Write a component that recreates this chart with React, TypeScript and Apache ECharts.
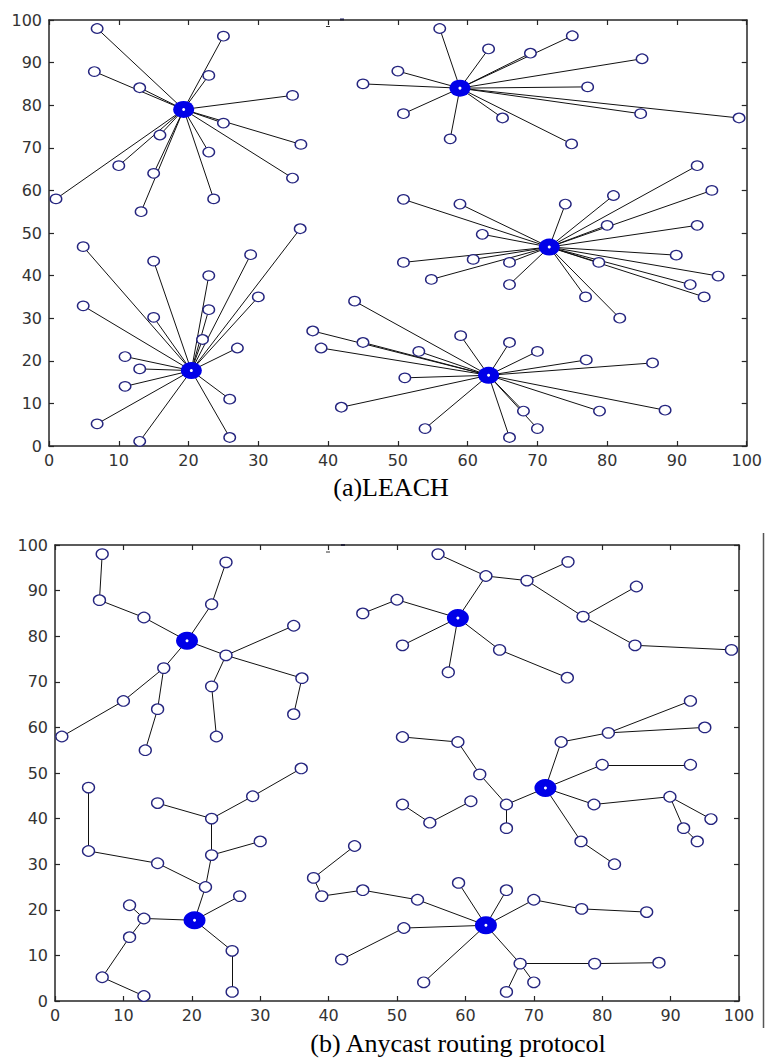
import React, { useEffect, useRef } from "react";
import * as echarts from "echarts";

// Cluster heads (shared by both panels)
const headX = [19.3, 20.4, 58.9, 71.7, 63.0];
const headY = [79.0, 17.7, 84.0, 46.7, 16.6];

// Sensor nodes
const nodeX = [
  6.9, 25.0, 6.5, 22.9, 13.0, 34.9, 25.0, 36.1, 15.9, 10.0, 22.9, 15.0, 34.9, 1.0, 13.2, 23.6,
  4.9, 15.0, 22.9, 28.9, 36.0, 30.0, 4.9, 15.0, 22.9, 22.0, 27.0, 10.9, 13.0, 10.9, 25.9, 6.9, 13.0, 25.9,
  56.0, 63.0, 69.0, 75.0, 50.0, 85.0, 77.2, 50.8, 65.0, 84.8, 98.9, 57.5, 74.9, 45.0,
  92.9, 95.0, 92.9, 80.9, 80.0, 74.0, 50.8, 58.9, 62.1, 89.9, 50.8, 60.8, 66.0, 78.8, 95.9, 54.8, 66.0, 91.9, 93.9, 76.9, 81.8,
  59.0, 66.0, 70.0, 77.0, 86.5, 53.0, 51.0, 68.0, 70.0, 66.0, 78.9, 88.3, 53.9, 43.8, 37.8, 45.0, 39.0, 41.9,
];
const nodeY = [
  98.0, 96.2, 87.9, 87.0, 84.1, 82.3, 75.8, 70.8, 73.0, 65.8, 69.0, 64.0, 62.9, 58.0, 55.0, 58.0,
  46.8, 43.4, 40.0, 44.9, 51.0, 35.0, 32.9, 30.2, 32.0, 25.0, 23.0, 21.0, 18.1, 14.0, 11.0, 5.2, 1.1, 2.0,
  98.0, 93.2, 92.2, 96.3, 88.0, 90.9, 84.3, 78.0, 77.0, 78.0, 77.0, 72.1, 70.9, 85.0,
  65.8, 60.0, 51.8, 58.8, 51.8, 56.8, 57.9, 56.8, 49.7, 44.8, 43.1, 43.8, 43.1, 43.1, 39.9, 39.1, 37.9, 37.9, 35.0, 35.0, 30.0,
  25.9, 24.3, 22.2, 20.2, 19.5, 22.2, 16.0, 8.2, 4.1, 2.0, 8.2, 8.4, 4.1, 34.0, 27.0, 24.3, 23.0, 9.1,
];

// (a) LEACH: each node joins its cluster head directly
const leachHead = [
  0, 0, 0, 0, 0, 0, 0, 0, 0, 0, 0, 0, 0, 0, 0, 0,
  1, 1, 1, 1, 1, 1, 1, 1, 1, 1, 1, 1, 1, 1, 1, 1, 1, 1,
  2, 2, 2, 2, 2, 2, 2, 2, 2, 2, 2, 2, 2, 2,
  3, 3, 3, 3, 3, 3, 3, 3, 3, 3, 3, 3, 3, 3, 3, 3, 3, 3, 3, 3, 3,
  4, 4, 4, 4, 4, 4, 4, 4, 4, 4, 4, 4, 4, 4, 4, 4, 4, 4,
];

// (b) Anycast: parent of each node (node index, or "H<k>" for cluster head k)
const anycastParent: (number | string)[] = [
  2, 3, 4, "H0", "H0", 6, "H0", 6, "H0", 8, 6, 8, 7, 9, 11, 10,
  22, 18, 24, 18, 19, 24, 23, 25, 25, "H1", "H1", 28, "H1", 28, "H1", 29, 31, 30,
  35, "H2", 35, 36, "H2", 40, 36, "H2", "H2", 40, 43, "H2", 42, 38,
  51, 51, 52, 53, "H3", "H3", 55, 56, 60, 61, 63, 59, "H3", "H3", 57, 59, 60, 57, 65, "H3", 67,
  "H4", "H4", "H4", 71, 72, "H4", "H4", "H4", 76, 76, 76, 79, "H4", 83, 85, 74, 84, 75,
];

const axisTicks = [0, 10, 20, 30, 40, 50, 60, 70, 80, 90, 100];
const titleA = "(a)LEACH";
const titleB = "(b) Anycast routing protocol";

const AXIS_COLOR = "#262626";
const NODE_COLOR = "#25257f";
const HEAD_COLOR = "#0000e8";

function pt(p: number | string): number[] {
  if (typeof p === "string") {
    const h = Number(p.slice(1));
    return [headX[h], headY[h]];
  }
  return [nodeX[p], nodeY[p]];
}

export default function App() {
  const ref = useRef<HTMLDivElement>(null);

  useEffect(() => {
    if (!ref.current) return;
    const chart = echarts.init(ref.current, null, { renderer: "svg" });

    const nodes = nodeX.map((x, i) => [x, nodeY[i]]);
    const heads = headX.map((x, i) => [x, headY[i]]);
    const leachLines = nodeX.map((x, i) => ({
      coords: [[x, nodeY[i]], [headX[leachHead[i]], headY[leachHead[i]]]],
    }));
    const anyLines = nodeX.map((x, i) => ({
      coords: [[x, nodeY[i]], pt(anycastParent[i])],
    }));

    const lineStyle = { color: AXIS_COLOR, width: 1.5 };
    const mkX = (gridIndex: number, position: "top" | "bottom", labels: boolean) => ({
      type: "value",
      gridIndex,
      position,
      min: axisTicks[0],
      max: axisTicks[axisTicks.length - 1],
      interval: 10,
      axisLine: { show: true, onZero: false, lineStyle },
      axisTick: { show: true, inside: true, length: 5, lineStyle: { color: AXIS_COLOR, width: 1.2 } },
      axisLabel: {
        show: labels,
        margin: 6,
        color: "#333",
        fontSize: 16,
        fontFamily: "DejaVu Sans",
      },
      splitLine: { show: false },
    });
    const mkY = (gridIndex: number, position: "left" | "right", labels: boolean) => ({
      type: "value",
      gridIndex,
      position,
      min: axisTicks[0],
      max: axisTicks[axisTicks.length - 1],
      interval: 10,
      axisLine: { show: true, onZero: false, lineStyle },
      axisTick: { show: true, inside: true, length: 5, lineStyle: { color: AXIS_COLOR, width: 1.2 } },
      axisLabel: {
        show: labels,
        margin: 7,
        color: "#333",
        fontSize: 16,
        fontFamily: "DejaVu Sans",
      },
      splitLine: { show: false },
    });

    const panelSeries = (
      axisIdx: number,
      lines: any[],
      nodeSize: number[],
      headSize: number[],
      zBase: number
    ) => [
      {
        type: "lines",
        coordinateSystem: "cartesian2d",
        xAxisIndex: axisIdx,
        yAxisIndex: axisIdx,
        data: lines,
        silent: true,
        symbol: "none",
        lineStyle: { color: "#111", width: 1, opacity: 1 },
        z: zBase,
      },
      {
        type: "scatter",
        xAxisIndex: axisIdx,
        yAxisIndex: axisIdx,
        data: nodes,
        symbol: "circle",
        symbolSize: nodeSize,
        silent: true,
        itemStyle: { color: "#ffffff", borderColor: NODE_COLOR, borderWidth: 1.3, opacity: 1 },
        z: zBase + 1,
      },
      {
        type: "scatter",
        xAxisIndex: axisIdx,
        yAxisIndex: axisIdx,
        data: heads,
        symbol: "circle",
        symbolSize: headSize,
        silent: true,
        itemStyle: { color: HEAD_COLOR, opacity: 1 },
        z: zBase + 2,
      },
      {
        type: "scatter",
        xAxisIndex: axisIdx,
        yAxisIndex: axisIdx,
        data: heads,
        symbol: "circle",
        symbolSize: 3,
        silent: true,
        itemStyle: { color: "#ffffff", opacity: 1 },
        z: zBase + 3,
      },
    ];

    chart.setOption({
      animation: false,
      backgroundColor: "#ffffff",
      grid: [
        { left: 49, right: 18, top: 20, height: 426 },
        { left: 55, right: 26, top: 545, height: 456 },
      ],
      xAxis: [
        mkX(0, "bottom", true),
        mkX(1, "bottom", true),
        mkX(0, "top", false),
        mkX(1, "top", false),
      ],
      yAxis: [
        mkY(0, "left", true),
        mkY(1, "left", true),
        mkY(0, "right", false),
        mkY(1, "right", false),
      ],
      series: [
        ...panelSeries(0, leachLines, [11.5, 9.5], [21, 17], 2),
        ...panelSeries(1, anyLines, [12, 10.5], [22, 18], 2),
      ],
      graphic: [
        {
          type: "text",
          x: 391,
          y: 487,
          style: {
            text: titleA,
            fontFamily: "Liberation Serif",
            fontSize: 26,
            fill: "#000",
            textAlign: "center",
            textVerticalAlign: "middle",
          },
        },
        {
          type: "text",
          x: 458,
          y: 1043,
          style: {
            text: titleB,
            fontFamily: "Liberation Serif",
            fontSize: 26,
            fill: "#000",
            textAlign: "center",
            textVerticalAlign: "middle",
          },
        },
        {
          type: "line",
          shape: { x1: 763.5, y1: 533, x2: 763.5, y2: 1028 },
          style: { stroke: "#555", lineWidth: 1.5 },
        },
        // small marks on the top border near x = 40..42
        { type: "line", shape: { x1: 326, y1: 26.5, x2: 330, y2: 26.5 }, style: { stroke: "#333", lineWidth: 1 } },
        { type: "rect", shape: { x: 340, y: 18.5, width: 4, height: 2 }, style: { fill: "#1a1a6a" } },
        { type: "line", shape: { x1: 326, y1: 552, x2: 330, y2: 552 }, style: { stroke: "#333", lineWidth: 1 } },
        { type: "rect", shape: { x: 341, y: 544, width: 4, height: 2 }, style: { fill: "#1a1a6a" } },
      ],
    });

    return () => chart.dispose();
  }, []);

  return (
    <div
      ref={ref}
      style={{ position: "absolute", left: 0, top: 0, width: 765, height: 1058, background: "#fff" }}
    />
  );
}
